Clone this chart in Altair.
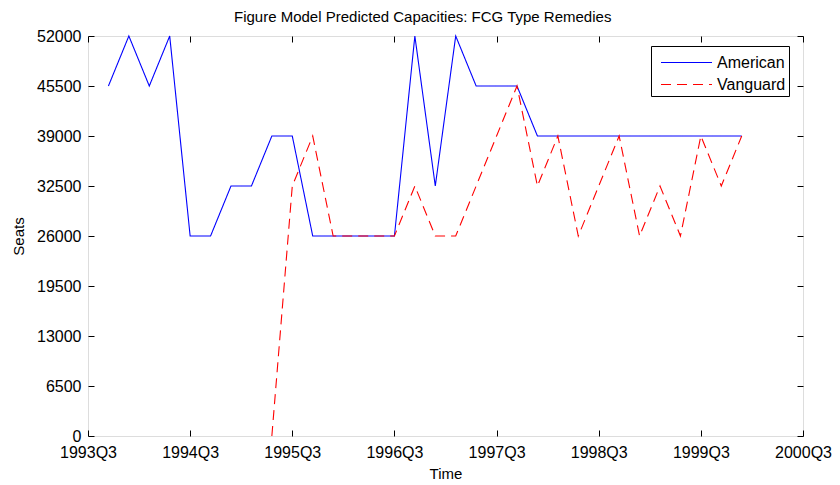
import json
import altair as alt
import pandas as pd

# ---- data ----
american_t = list(range(1, 33))
american_v = [45500, 52000, 45500, 52000, 26000, 26000, 32500, 32500, 39000, 39000,
              26000, 26000, 26000, 26000, 26000, 52000, 32500, 52000, 45500, 45500,
              45500, 39000, 39000, 39000, 39000, 39000, 39000, 39000, 39000, 39000,
              39000, 39000]
vanguard_t = list(range(9, 33))
vanguard_v = [0, 32500, 39000, 26000, 26000, 26000, 26000, 32500, 26000, 26000,
              32500, 39000, 45500, 32500, 39000, 26000, 32500, 39000, 26000, 32500,
              26000, 39000, 32500, 39000]
series_names = ["American", "Vanguard"]
series_colors = ["#0000FF", "#FF0000"]
x_tick_values = [0, 5, 10, 15, 20, 25, 30, 35]
x_tick_labels = ["1993Q3", "1994Q3", "1995Q3", "1996Q3", "1997Q3", "1998Q3", "1999Q3", "2000Q3"]
y_tick_values = [0, 6500, 13000, 19500, 26000, 32500, 39000, 45500, 52000]

df = pd.concat([
    pd.DataFrame({"t": american_t, "seats": american_v, "series": "American"}),
    pd.DataFrame({"t": vanguard_t, "seats": vanguard_v, "series": "Vanguard"}),
], ignore_index=True)

W, H = 715, 400
FONT = "Liberation Sans"
label_expr = json.dumps(x_tick_labels) + "[round(datum.value / 5)]"

xs = alt.Scale(domain=[0, 35], nice=False, zero=False)
ys = alt.Scale(domain=[0, 52000], nice=False)

legend_style = dict(
    title=None, orient="none", legendX=563, legendY=10,
    symbolType="M-0.51,0H3.49", symbolSize=650, symbolStrokeWidth=1.1,
    labelFontSize=16, labelFont=FONT, labelColor="#000",
    labelOffset=36, padding=3, rowPadding=0,
    labelExpr="datum.label + '  '",
    strokeColor="#000", fillColor="#FFFFFF",
)

lines = alt.Chart(df).mark_line(strokeWidth=1.1).encode(
    x=alt.X("t:Q", scale=xs, axis=alt.Axis(
        orient="bottom", values=x_tick_values, labelExpr=label_expr,
        ticks=False, tickSize=0, domain=False, grid=False,
        labelFlush=False, labelOverlap=False,
        labelFontSize=16, labelPadding=8, labelColor="#000", labelFont=FONT,
        title="Time", titleFontSize=15, titleFontWeight="normal", titleFont=FONT,
        titleColor="#000", titlePadding=6)),
    y=alt.Y("seats:Q", scale=ys, axis=alt.Axis(
        orient="left", values=y_tick_values, format="d",
        ticks=False, tickSize=0, domain=False, grid=False,
        labelFlush=False, labelOverlap=False,
        labelFontSize=16, labelPadding=7, labelColor="#000", labelFont=FONT,
        title="Seats", titleFontSize=15, titleFontWeight="normal", titleFont=FONT,
        titleColor="#000", titlePadding=10)),
    color=alt.Color("series:N", scale=alt.Scale(domain=series_names, range=series_colors),
                    legend=alt.Legend(**legend_style)),
    strokeDash=alt.StrokeDash("series:N", scale=alt.Scale(domain=series_names,
                                                           range=[[1, 0], [10, 6]]),
                              legend=alt.Legend(**legend_style)),
    detail="series:N",
)

tick_axis_common = dict(labels=False, domain=False, grid=False, title=None,
                        ticks=True, tickSize=6, tickColor="#000", tickWidth=1)

ticks_a = alt.Chart(df).mark_point(opacity=0).encode(
    x=alt.X("t:Q", scale=xs, axis=alt.Axis(orient="top", offset=-H, values=x_tick_values,
                                           **tick_axis_common)),
    y=alt.Y("seats:Q", scale=ys, axis=alt.Axis(orient="right", offset=-W, values=y_tick_values,
                                               **tick_axis_common)),
)
ticks_b = alt.Chart(df).mark_point(opacity=0).encode(
    x=alt.X("t:Q", scale=xs, axis=alt.Axis(orient="bottom", offset=-H, values=x_tick_values,
                                           **tick_axis_common)),
    y=alt.Y("seats:Q", scale=ys, axis=alt.Axis(orient="left", offset=-W, values=y_tick_values,
                                               **tick_axis_common)),
)

chart = alt.layer(lines, ticks_a, ticks_b).resolve_axis(
    x="independent", y="independent"
).properties(
    width=W, height=H,
    title=alt.TitleParams("Figure Model Predicted Capacities: FCG Type Remedies",
                          anchor="start", frame="group", dx=146, fontSize=15,
                          fontWeight="normal", font=FONT, color="#000", offset=3),
    autosize=alt.AutoSizeParams(type="none"),
    padding={"left": 80, "top": 28, "right": 29, "bottom": 48},
).configure_view(
    stroke="#000", strokeWidth=1
).configure(background="#FFFFFF")

chart.save("out.html", embed_options={"renderer": "svg", "actions": False})
